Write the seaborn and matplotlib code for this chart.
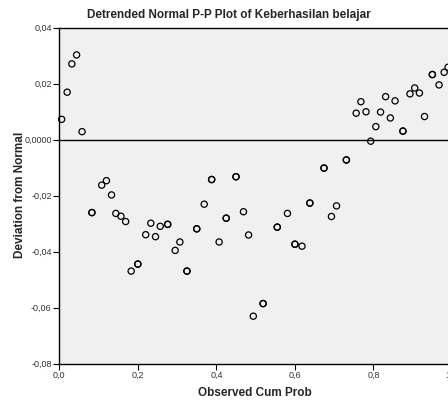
import numpy as np
import pandas as pd
import matplotlib
matplotlib.use("Agg")
import matplotlib.pyplot as plt
import seaborn as sns
from matplotlib.ticker import FuncFormatter

# Observed cumulative probability (x) and deviation from normal (y)
obs_cum_prob = [
    0.006, 0.020, 0.032, 0.044, 0.058,
    0.083, 0.083, 0.108, 0.120, 0.133, 0.144, 0.157, 0.169, 0.183, 0.200, 0.200,
    0.220, 0.233, 0.245, 0.257, 0.276, 0.276, 0.295, 0.307, 0.325, 0.325,
    0.350, 0.350, 0.369, 0.388, 0.388, 0.407, 0.425, 0.425, 0.450, 0.450,
    0.469, 0.482, 0.494, 0.519, 0.519, 0.555, 0.555, 0.581, 0.600, 0.600, 0.618,
    0.638, 0.638, 0.674, 0.674, 0.693, 0.706, 0.731, 0.731,
    0.756, 0.768, 0.781, 0.793, 0.806, 0.818, 0.831, 0.843, 0.855,
    0.875, 0.875, 0.893, 0.905, 0.917, 0.930, 0.950, 0.950, 0.967, 0.980, 0.990,
]
deviation = [
    0.0072, 0.0169, 0.0270, 0.0302, 0.0028,
    -0.0261, -0.0261, -0.0163, -0.0147, -0.0198, -0.0264, -0.0274, -0.0293, -0.0470, -0.0445, -0.0445,
    -0.0340, -0.0299, -0.0347, -0.0310, -0.0303, -0.0303, -0.0396, -0.0366, -0.0470, -0.0470,
    -0.0319, -0.0319, -0.0231, -0.0143, -0.0143, -0.0366, -0.0281, -0.0281, -0.0133, -0.0133,
    -0.0258, -0.0341, -0.0631, -0.0586, -0.0586, -0.0313, -0.0313, -0.0264, -0.0374, -0.0374, -0.0381,
    -0.0227, -0.0227, -0.0102, -0.0102, -0.0275, -0.0237, -0.0073, -0.0073,
    0.0094, 0.0135, 0.0099, -0.0006, 0.0046, 0.0098, 0.0153, 0.0077, 0.0138,
    0.0030, 0.0030, 0.0163, 0.0184, 0.0166, 0.0082, 0.0232, 0.0232, 0.0195, 0.0240, 0.0258,
]

y_ticks = [0.04, 0.02, 0.0, -0.02, -0.04, -0.06, -0.08]
x_ticks = [0.0, 0.2, 0.4, 0.6, 0.8, 1.0]

df = pd.DataFrame({"Observed Cum Prob": obs_cum_prob, "Deviation from Normal": deviation})

sns.set_style("white")
plt.rcParams["font.family"] = ["Liberation Sans", "DejaVu Sans"]

fig = plt.figure(figsize=(4.48, 4.01), dpi=100)
ax = fig.add_axes([59.3 / 448, 37.5 / 401, 392.7 / 448, 336 / 401])
ax.set_facecolor("#f0f0f0")

sns.scatterplot(data=df, x="Observed Cum Prob", y="Deviation from Normal", ax=ax,
                marker="o", s=20, facecolor="none", edgecolor="black", linewidth=0.9,
                clip_on=False, zorder=3)
ax.axhline(0, color="black", linewidth=1.0, zorder=2)

ax.set_xlim(0, 1.0)
ax.set_ylim(-0.08, 0.04)
ax.set_xticks(x_ticks)
ax.set_yticks(y_ticks)

def fmt_y(v, pos):
    if abs(v) < 1e-9:
        return "0,0000"
    return f"{v:.2f}".replace(".", ",")

def fmt_x(v, pos):
    return f"{v:.1f}".replace(".", ",")

ax.yaxis.set_major_formatter(FuncFormatter(fmt_y))
ax.xaxis.set_major_formatter(FuncFormatter(fmt_x))
ax.tick_params(axis="both", direction="out", length=4, width=0.8, color="black",
               labelsize=6.5, labelcolor="#333333", pad=1.5, left=True, bottom=True)

for side in ["left", "bottom", "top"]:
    ax.spines[side].set_visible(True)
    ax.spines[side].set_color("black")
    ax.spines[side].set_linewidth(1.0)
ax.spines["right"].set_visible(False)

ax.set_xlabel("")
ax.set_ylabel("")
fig.text(255 / 448, 1 - 393 / 401, "Observed Cum Prob", ha="center", va="center",
         fontsize=8.5, fontweight="bold")
fig.text(20 / 448, 1 - 195 / 401, "Deviation from Normal", ha="center", va="center",
         rotation=90, fontsize=8.5, fontweight="bold")
fig.text(229 / 448, 1 - 15 / 401, "Detrended Normal P-P Plot of Keberhasilan belajar",
         ha="center", va="center", fontsize=8.5, fontweight="bold")

fig.savefig("out.png", dpi=100)
